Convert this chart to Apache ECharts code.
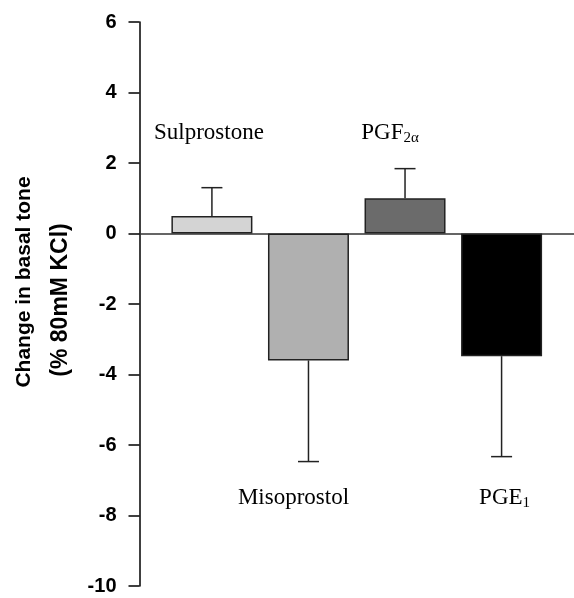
<!DOCTYPE html>
<html><head><meta charset="utf-8">
<script src="https://cdn.jsdelivr.net/npm/echarts@6/dist/echarts.min.js"></script>
<style>html,body{margin:0;padding:0;background:#fff}#c{width:574px;height:598px}</style>
</head><body><div id="c"></div>
<script>
// ---- data ----
const categoryMain = ['Sulprostone', 'Misoprostol', 'PGF', 'PGE'];
const categorySub = ['', '', '2α', '1'];
const meanValues = [0.5, -3.6, 1.0, -3.48];
const semValues = [0.8, 2.87, 0.84, 2.85];
const yTickValues = [-10, -8, -6, -4, -2, 0, 2, 4, 6];
const barColors = ['#d4d4d4', '#b0b0b0', '#6b6b6b', '#000000'];

// ---- layout constants ----
const labelOffsetX = [-3, -15, -15, 3];
const labelAboveValue = 2.85;
const labelBelowValue = -7.49;
const serif = "'Liberation Serif','Times New Roman',serif";
const sans = "'Liberation Sans',Arial,sans-serif";

const positions = categoryMain.map((c, i) => i + 1);
const barData = meanValues.map((v, i) => ({ value: [positions[i], v], itemStyle: { color: barColors[i] } }));
const errData = meanValues.map((v, i) => [positions[i], v, semValues[i]]);
const labelData = meanValues.map((v, i) => [positions[i], v >= 0 ? labelAboveValue : labelBelowValue, i]);

const chart = echarts.init(document.getElementById('c'), null, { renderer: 'canvas' });
chart.setOption({
  animation: false,
  backgroundColor: '#ffffff',
  grid: { left: 139.5, right: 0, top: 22, bottom: 12, containLabel: false },
  xAxis: {
    type: 'value', min: 0.25, max: 4.75,
    axisLine: { show: true, onZero: true, lineStyle: { color: '#333', width: 1.5 } },
    axisTick: { show: false }, axisLabel: { show: false }, splitLine: { show: false }
  },
  yAxis: {
    type: 'value', min: yTickValues[0], max: yTickValues[yTickValues.length - 1], interval: 2,
    axisLine: { show: true, onZero: false, lineStyle: { color: '#000', width: 1.5 } },
    axisTick: { show: true, length: 11, lineStyle: { color: '#000', width: 1.5 } },
    axisLabel: { fontSize: 20, fontWeight: 'bold', fontFamily: sans, color: '#000', margin: 23 },
    splitLine: { show: false },
    name: '{a|Change in basal tone}\n{b|(% 80mM KCl)}',
    nameLocation: 'middle', nameRotate: 90, nameGap: 60,
    nameTextStyle: {
      rich: {
        a: { fontSize: 21, fontWeight: 'bold', fontFamily: sans, color: '#000', lineHeight: 37, padding: [0, 0, 0, 44] },
        b: { fontSize: 23, fontWeight: 'bold', fontFamily: sans, color: '#000', lineHeight: 37, padding: [0, 0, 0, 8] }
      }
    }
  },
  series: [
    {
      type: 'bar', data: barData, barWidth: 81,
      itemStyle: { borderColor: '#222', borderWidth: 1.5 }
    },
    {
      type: 'custom', data: errData, z: 3,
      renderItem: function (params, api) {
        const x = api.value(0), v = api.value(1), e = api.value(2);
        const end = v >= 0 ? v + e : v - e;
        const p0 = api.coord([x, v]);
        const p1 = api.coord([x, end]);
        const cap = 10.5;
        const st = { stroke: '#222', lineWidth: 1.5 };
        return {
          type: 'group', children: [
            { type: 'line', shape: { x1: p0[0], y1: p0[1], x2: p1[0], y2: p1[1] }, style: st },
            { type: 'line', shape: { x1: p1[0] - cap, y1: p1[1], x2: p1[0] + cap, y2: p1[1] }, style: st }
          ]
        };
      }
    },
    {
      type: 'custom', data: labelData, z: 4,
      renderItem: function (params, api) {
        const i = api.value(2);
        const p = api.coord([api.value(0), api.value(1)]);
        const sub = categorySub[i];
        const txt = '{m|' + categoryMain[i] + '}' + (sub ? '{s|' + sub + '}' : '');
        return {
          type: 'text', x: p[0] + labelOffsetX[i], y: p[1],
          style: {
            text: txt, align: 'center', verticalAlign: 'middle', fill: '#000',
            rich: {
              m: { fontSize: 23, fontFamily: serif, lineHeight: 26, fill: '#000' },
              s: { fontSize: 15, fontFamily: serif, lineHeight: 9, verticalAlign: 'bottom', fill: '#000' }
            }
          }
        };
      }
    }
  ]
});
</script>
</body></html>
